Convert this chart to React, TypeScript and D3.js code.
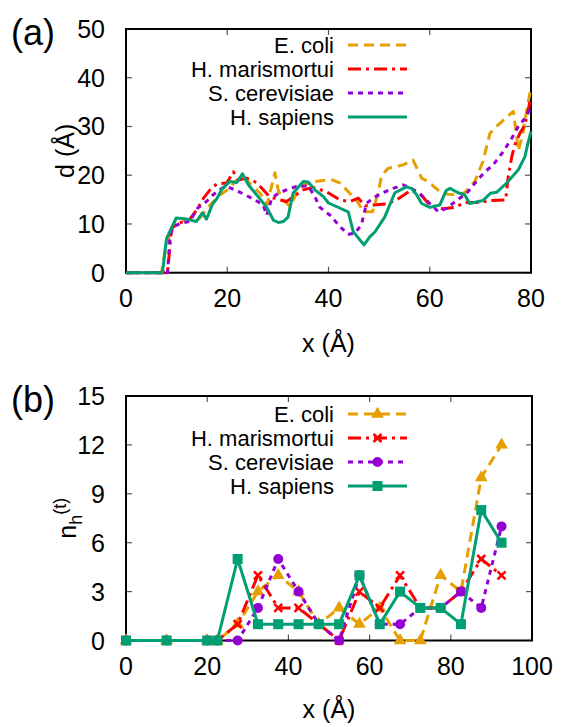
import React, { useEffect, useRef } from "react";
import * as d3 from "d3";

const seriesNames = ["E. coli", "H. marismortui", "S. cerevisiae", "H. sapiens"];
const seriesColors = ["#e69f00", "#ff0000", "#9400d3", "#009e73"];
const seriesDash = ["10,6", "13,5,3,5", "5,5", "none"];
const markerKinds = ["triangle", "cross", "circle", "square"];

// panel (a): d (Å) along x (Å)
const ecoliD = [[0,0],[7,0],[8,6],[9.7,10.5],[12,10.8],[14.6,11.2],[16.6,13.9],[18.6,16],[20.5,17.3],[21.5,18.7],[23.2,19.7],[24.8,18],[26.5,16.3],[27.9,14],[29.4,20.5],[30.1,16.8],[31.1,14.9],[32.4,13.6],[33.7,16.3],[35,18],[37.3,18.7],[39.6,19],[40.9,19],[42.3,18.4],[43.9,16.6],[45.5,14.9],[46.5,13.2],[47.5,12.5],[48.7,12.5],[49.8,16.3],[50.5,20],[51.8,21.4],[53.4,21.8],[54.7,22.1],[56.7,23.1],[58.4,19.4],[59.7,18.7],[62,16.6],[63.6,16.1],[65,16],[66.9,16.4],[68.9,18.7],[70.5,22.8],[71.9,28.6],[73.2,30],[75.2,31.9],[76.5,33.1],[77,29.3],[77.5,25],[78.4,28.6],[79.4,34.8],[79.9,37.5]];
const marisD = [[0,0],[8.2,0],[9,9.1],[10.3,10.1],[12.6,11],[14,12.9],[15.3,15.3],[16.6,17],[17.9,18.2],[19.9,18.4],[21.2,20.7],[22.2,19],[23.8,19.4],[25.8,18.5],[27.1,17],[28.4,15.5],[31.7,14.6],[35,17],[37,17.5],[39.6,16.6],[42.3,14.9],[44.2,14.6],[45.9,15.3],[47.2,13.7],[48.8,13.9],[51.5,14.1],[53.4,14.9],[55.4,16.3],[56.1,16.8],[58,16.3],[60,13.9],[62.6,13.1],[65,13.4],[66.9,14.4],[69.9,14.4],[71.9,14.8],[75,14.9],[75.5,19.7],[76.2,23.8],[76.8,26.2],[77.8,28.6],[78.8,30.3],[79.8,35.1]];
const cerevD = [[0,0],[8.2,0],[8.7,7.4],[9.3,9.4],[10.7,10.1],[12.6,10.5],[14.1,13.2],[15.9,14.6],[17.2,16],[18.9,17.3],[19.9,17.7],[21.5,17],[23.5,16],[25.5,14.9],[27.1,13.9],[27.8,11.8],[28.8,15.3],[30.1,16.3],[31.7,17],[33.7,17.7],[36,17.8],[37.3,15.6],[38.3,13.4],[40.3,11.8],[42.3,9.4],[43.9,7.9],[45.2,8.1],[46.5,9.8],[47.5,14.2],[48.8,15.3],[50.5,16.3],[52.8,17.3],[54.7,18],[56,17.5],[58,16.3],[60,14.2],[61.7,12.5],[63.3,13.2],[65.3,14.8],[67.3,16.3],[69.2,18.7],[70.9,20.7],[72.5,22.1],[74.5,24.8],[76.2,27.6],[77.5,30],[78.8,31.7],[80,33.8]];
const sapiensD = [[0,0],[7.2,0],[8,7],[9.9,11.2],[12,11],[13.9,10.5],[15.1,12.3],[15.9,11],[17.1,14.1],[17.9,15.1],[18.9,17.1],[20.5,18.7],[21.9,18.5],[23,20.3],[24.2,18],[25.8,16],[27.8,13.4],[29.1,10.8],[30.1,10.3],[31.1,10.5],[32,11.4],[33,16.3],[35,18.7],[36,18.6],[37.3,17],[39,15.6],[40,14.3],[43.9,12.5],[44.9,8.4],[47,5.7],[48.2,7.4],[49.2,8.4],[51.1,11.4],[53.1,16.4],[55.4,17.6],[56.4,17.3],[57.4,16],[58.4,14.2],[60,13.4],[62,13.9],[63.2,16.8],[64,17.3],[65.6,16.4],[66.9,16],[67.9,14.2],[70.5,14.8],[72,16.3],[73.2,16.5],[75.2,18.4],[77.5,21.1],[78.8,23.8],[79.4,26.6],[80,29]];

// panel (b): n_h^(t) per x bin
const xBins = [0, 10, 20, 22.5, 27.5, 32.5, 37.5, 42.5, 47.5, 52.5, 57.5, 62.5, 67.5, 72.5, 77.5, 82.5, 87.5, 92.5];
const ecoliN = [0, 0, 0, 0, 1, 3, 4, 3, 1, 2, 1, 2, 0, 0, 4, 3, 10, 12];
const marisN = [0, 0, 0, 0, 1, 4, 2, 2, 1, 0, 3, 2, 4, 2, 2, 3, 5, 4];
const cerevN = [0, 0, 0, 0, 0, 2, 5, 3, 1, 0, 4, 1, 1, 2, 2, 3, 2, 7];
const sapiensN = [0, 0, 0, 0, 5, 1, 1, 1, 1, 1, 4, 1, 3, 2, 2, 1, 8, 6];

const topXTicks = [0, 20, 40, 60, 80];
const topYTicks = [0, 10, 20, 30, 40, 50];
const botXTicks = [0, 20, 40, 60, 80, 100];
const botYTicks = [0, 3, 6, 9, 12, 15];

const font = "'Liberation Sans', Arial, Helvetica, sans-serif";
const tickFs = 25;
const legFs = 22;
const legStep = 24;

function frame(g, x, y, xt, yt) {
  const [l, r] = x.range();
  const [b, t] = y.range();
  const tk = 6;
  xt.forEach(v => {
    g.append("line").attr("x1", x(v)).attr("x2", x(v)).attr("y1", b).attr("y2", b - tk)
      .attr("stroke", "#555").attr("stroke-width", 1.2);
    g.append("line").attr("x1", x(v)).attr("x2", x(v)).attr("y1", t).attr("y2", t + tk)
      .attr("stroke", "#555").attr("stroke-width", 1.2);
    g.append("text").attr("x", x(v)).attr("y", b + 34).attr("text-anchor", "middle")
      .attr("font-size", tickFs).text(v);
  });
  yt.forEach(v => {
    g.append("line").attr("x1", l).attr("x2", l + tk).attr("y1", y(v)).attr("y2", y(v))
      .attr("stroke", "#555").attr("stroke-width", 1.2);
    g.append("line").attr("x1", r).attr("x2", r - tk).attr("y1", y(v)).attr("y2", y(v))
      .attr("stroke", "#555").attr("stroke-width", 1.2);
    g.append("text").attr("x", l - 21).attr("y", y(v) + tickFs * 0.36).attr("text-anchor", "end")
      .attr("font-size", tickFs).text(v);
  });
  g.append("rect").attr("x", l).attr("y", t).attr("width", r - l).attr("height", b - t)
    .attr("fill", "none").attr("stroke", "#000").attr("stroke-width", 2);
}

function marker(g, kind, cx, cy, color) {
  if (kind === "triangle") {
    g.append("path").attr("d", d3.symbol(d3.symbolTriangle, 70)())
      .attr("transform", `translate(${cx},${cy})`).attr("fill", color);
  } else if (kind === "cross") {
    g.append("path").attr("d", "M-4,-4L4,4M-4,4L4,-4")
      .attr("transform", `translate(${cx},${cy})`).attr("stroke", color).attr("stroke-width", 2.6).attr("fill", "none");
  } else if (kind === "circle") {
    g.append("circle").attr("cx", cx).attr("cy", cy).attr("r", 5).attr("fill", color);
  } else {
    g.append("rect").attr("x", cx - 5).attr("y", cy - 5).attr("width", 10).attr("height", 10).attr("fill", color);
  }
}

function legend(g, rowY, withMarkers) {
  seriesNames.forEach((name, i) => {
    const yy = rowY + i * legStep;
    g.append("text").attr("x", 334).attr("y", yy + legFs * 0.36).attr("text-anchor", "end")
      .attr("font-size", legFs).text(name);
    g.append("line").attr("x1", 348).attr("x2", 407).attr("y1", yy).attr("y2", yy)
      .attr("stroke", seriesColors[i]).attr("stroke-width", 3)
      .attr("stroke-dasharray", seriesDash[i]);
    if (withMarkers) marker(g, markerKinds[i], 377.5, yy, seriesColors[i]);
  });
}

function drawTop(svg) {
  const g = svg.append("g");
  const x = d3.scaleLinear().domain([0, 80]).range([126, 531]);
  const y = d3.scaleLinear().domain([0, 50]).range([272.7, 29]);
  frame(g, x, y, topXTicks, topYTicks);
  legend(g, 45, false);
  const line = d3.line().x(d => x(d[0])).y(d => y(d[1]));
  [ecoliD, marisD, cerevD, sapiensD].forEach((s, i) => {
    g.append("path").attr("d", line(s)).attr("fill", "none")
      .attr("stroke", seriesColors[i]).attr("stroke-width", 3)
      .attr("stroke-dasharray", seriesDash[i]).attr("stroke-linejoin", "round");
  });
  g.append("text").attr("x", 11).attr("y", 45).attr("font-size", 36).text("(a)");
  g.append("text").attr("transform", `translate(74,${(29 + 272.7) / 2}) rotate(-90)`)
    .attr("text-anchor", "middle").attr("font-size", tickFs).text("d (Å)");
  g.append("text").attr("x", 328.5).attr("y", 352).attr("text-anchor", "middle")
    .attr("font-size", tickFs).text("x (Å)");
}

function drawBottom(svg) {
  const g = svg.append("g");
  const x = d3.scaleLinear().domain([0, 100]).range([126, 532]);
  const y = d3.scaleLinear().domain([0, 15]).range([640.5, 396]);
  frame(g, x, y, botXTicks, botYTicks);
  legend(g, 414, true);
  const line = d3.line().x((d, i) => x(xBins[i])).y(d => y(d));
  [ecoliN, marisN, cerevN, sapiensN].forEach((s, i) => {
    g.append("path").attr("d", line(s)).attr("fill", "none")
      .attr("stroke", seriesColors[i]).attr("stroke-width", 3)
      .attr("stroke-dasharray", seriesDash[i]).attr("stroke-linejoin", "round");
    s.forEach((v, j) => marker(g, markerKinds[i], x(xBins[j]), y(v), seriesColors[i]));
  });
  g.append("text").attr("x", 11).attr("y", 412).attr("font-size", 36).text("(b)");
  const lab = g.append("text").attr("transform", `translate(76,${(396 + 640.5) / 2}) rotate(-90)`)
    .attr("text-anchor", "middle").attr("font-size", tickFs);
  lab.append("tspan").text("n");
  lab.append("tspan").attr("dy", 6).attr("font-size", 18).text("h");
  lab.append("tspan").attr("dy", -16).attr("font-size", 18).text("(t)");
  g.append("text").attr("x", 329).attr("y", 718).attr("text-anchor", "middle")
    .attr("font-size", tickFs).text("x (Å)");
}

export default function App() {
  const ref = useRef(null);
  useEffect(() => {
    const svg = d3.select(ref.current);
    svg.selectAll("*").remove();
    drawTop(svg);
    drawBottom(svg);
  }, []);
  return (
    <svg ref={ref} width={562} height={727} fontFamily={font}
      style={{ position: "absolute", left: 0, top: 0, background: "#fff" }} />
  );
}
